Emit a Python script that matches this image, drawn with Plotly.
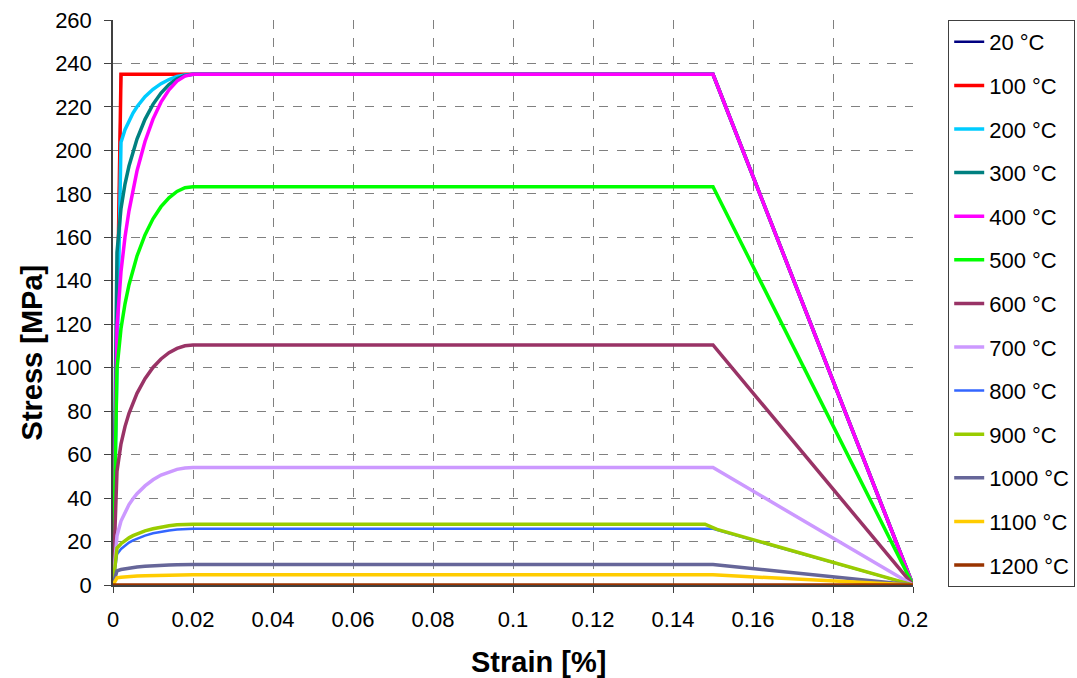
import plotly.graph_objects as go

# Strain sample points (fraction)
strain = [0, 0.001, 0.002, 0.003, 0.004, 0.005, 0.006, 0.008, 0.010, 0.012,
          0.014, 0.016, 0.018, 0.020, 0.15, 0.20]
strain_900 = [0, 0.001, 0.002, 0.003, 0.004, 0.005, 0.006, 0.008, 0.010, 0.012,
              0.014, 0.016, 0.018, 0.020, 0.148, 0.151, 0.20]

# Stress [MPa] per temperature (None = no point read there)
s_20 = [0, None, 235, 235, 235, 235, 235, 235, 235, 235, 235, 235, 235, 235, 235, 0]
s_100 = [0, None, 235, 235, 235, 235, 235, 235, 235, 235, 235, 235, 235, 235, 235, 0]
s_200 = [0, None, 203.7, 209.5, 213.8, 217.2, 220.1, 224.7, 228.1, 230.7, 232.6, 234.0, 234.7, 235, 235, 0]
s_300 = [0, 153.1, 173.3, 184.5, 192.8, 199.6, 205.2, 214.3, 221.2, 226.4, 230.3, 232.9, 234.5, 235, 235, 0]
s_400 = [0, 118.8, 144.2, 160.1, 172.2, 182.2, 190.6, 204.1, 214.4, 222.2, 227.9, 231.9, 234.2, 235, 235, 0]
s_500 = [0, 99.7, 118.0, 129.4, 138.2, 145.3, 151.4, 161.1, 168.5, 174.1, 178.2, 181.1, 182.8, 183.3, 183.3, 0]
s_600 = [0, 52.4, 65.0, 72.9, 79.0, 83.9, 88.2, 94.9, 100.1, 104.0, 106.9, 108.9, 110.1, 110.45, 110.45, 0]
s_700 = [0, 22.7, 29.4, 33.7, 37.0, 39.7, 42.0, 45.6, 48.4, 50.6, 52.1, 53.2, 53.8, 54.05, 54.05, 0]
s_800 = [0, 14.1, 16.6, 18.2, 19.5, 20.5, 21.3, 22.7, 23.8, 24.5, 25.1, 25.5, 25.8, 25.85, 25.85, 0]
s_900 = [0, 17.0, 19.0, 20.5, 21.7, 22.7, 23.5, 24.9, 25.9, 26.7, 27.3, 27.7, 27.9, 28.0, 28.0, 25.6, 0]
s_1000 = [0, 6.5, 7.1, 7.5, 7.8, 8.1, 8.3, 8.6, 8.9, 9.1, 9.2, 9.3, 9.4, 9.4, 9.4, 0]
s_1100 = [0, 3.3, 3.6, 3.8, 3.9, 4.0, 4.1, 4.3, 4.4, 4.5, 4.6, 4.7, 4.7, 4.7, 4.7, 0]
s_1200 = [0, 0, 0, 0, 0, 0, 0, 0, 0, 0, 0, 0, 0, 0, 0, 0]

labels = ["20 °C", "100 °C", "200 °C", "300 °C", "400 °C", "500 °C", "600 °C",
          "700 °C", "800 °C", "900 °C", "1000 °C", "1100 °C", "1200 °C"]
series = [s_20, s_100, s_200, s_300, s_400, s_500, s_600, s_700, s_800, s_900,
          s_1000, s_1100, s_1200]
xs = [strain] * 9 + [strain_900] + [strain] * 3
colors = ["#000080", "#FF0000", "#00CCFF", "#008080", "#FF00FF", "#00FF00", "#993366",
          "#CC99FF", "#3366FF", "#99CC00", "#666699", "#FFCC00", "#993300"]
widths = [2.5, 3.5, 3.5, 3.5, 3.5, 3.5, 3.5, 3.5, 2.5, 3.5, 3.5, 3.5, 3.5]

x_ticks = [0, 0.02, 0.04, 0.06, 0.08, 0.1, 0.12, 0.14, 0.16, 0.18, 0.2]
x_ticktext = ["0", "0.02", "0.04", "0.06", "0.08", "0.1", "0.12", "0.14", "0.16", "0.18", "0.2"]
y_ticks = [0, 20, 40, 60, 80, 100, 120, 140, 160, 180, 200, 220, 240, 260]
y_ticktext = [str(v) for v in y_ticks]

FONT = "Arial, Liberation Sans, sans-serif"

fig = go.Figure()
for lab, ys, x, c, w in zip(labels, series, xs, colors, widths):
    fig.add_trace(go.Scatter(x=x, y=ys, mode="lines", name=lab, legendgroup=lab,
                             connectgaps=True, line=dict(color=c, width=w)))

axis_common = dict(showgrid=True, gridcolor="#808080", griddash="dash", gridwidth=1,
                   showline=True, linecolor="#404040", linewidth=1.5, ticks="outside",
                   tickcolor="#404040", zeroline=False, automargin=False,
                   tickfont=dict(family=FONT, size=22, color="black"))

fig.update_layout(
    width=1077, height=678,
    margin=dict(l=113, r=164, t=20, b=93, autoexpand=False),
    paper_bgcolor="white", plot_bgcolor="white",
    font=dict(family=FONT, color="black"),
    showlegend=True,
    legend=dict(x=1.044, y=1.0, xanchor="left", yanchor="top",
                bordercolor="#404040", borderwidth=1, bgcolor="white",
                font=dict(family=FONT, size=22, color="black"),
                traceorder="grouped", tracegroupgap=12, maxheight=660),
    xaxis=dict(range=[0, 0.2], tickmode="array", tickvals=x_ticks, ticktext=x_ticktext,
               ticklen=6, ticklabelstandoff=8, **axis_common),
    yaxis=dict(range=[0, 260], tickmode="array", tickvals=y_ticks, ticktext=y_ticktext,
               ticklen=7, ticklabelstandoff=8, **axis_common),
    annotations=[
        dict(text="<b>Strain [%]</b>", xref="paper", yref="paper", x=0.5324, y=-0.1363,
             xanchor="center", yanchor="middle", showarrow=False,
             font=dict(family=FONT, size=29, color="black")),
        dict(text="<b>Stress [MPa]</b>", xref="paper", yref="paper", x=-0.1007, y=0.4124,
             xanchor="center", yanchor="middle", showarrow=False, textangle=-90,
             font=dict(family=FONT, size=29, color="black")),
    ],
)

fig.write_html("out.html")
